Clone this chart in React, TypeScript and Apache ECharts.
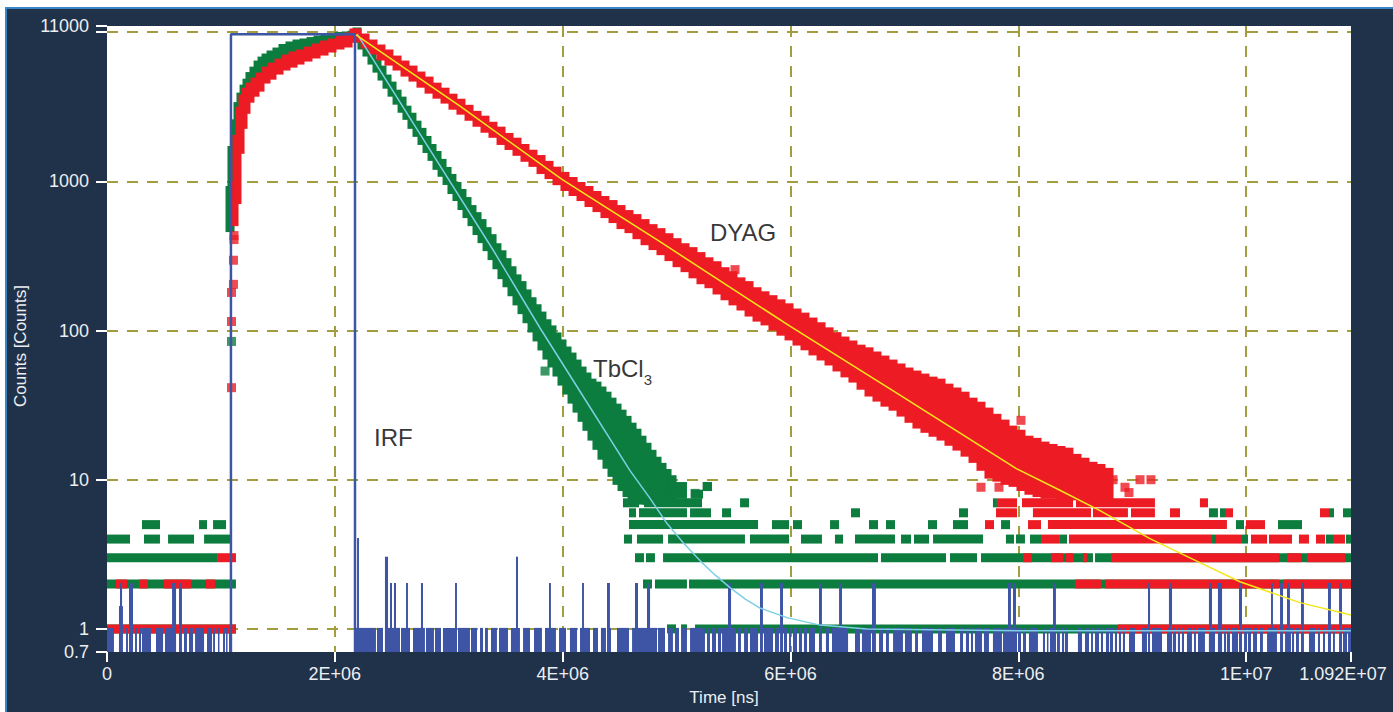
import React, { useEffect, useRef } from "react";
import * as echarts from "echarts";

// ---------- axes ----------
const TIME_MIN = 0;
const TIME_MAX = 1.092e7;
const TIME_INTERVAL = 2e6;
const COUNT_MIN = 0.7;
const COUNT_MAX = 11000;
const xAxisTitle = "Time [ns]";
const yAxisTitle = "Counts [Counts]";

// ---------- TbCl3 (green) : [time, upper count, lower count] per time window ----------
const tbcl3Band = [
  [1.080e6, 868, 490], [1.097e6, 1610, 882], [1.124e6, 2430, 1640], [1.150e6, 3170, 2690],
  [1.176e6, 3670, 3240], [1.203e6, 4150, 3500], [1.229e6, 4550, 3840], [1.255e6, 5040, 4150],
  [1.290e6, 5480, 4420], [1.326e6, 6020, 4770], [1.361e6, 6400, 5000], [1.396e6, 6710, 5320],
  [1.440e6, 7030, 5660], [1.492e6, 7360, 6020], [1.545e6, 7770, 6300], [1.606e6, 8080, 6710],
  [1.668e6, 8330, 7030], [1.729e6, 8460, 7250], [1.791e6, 8650, 7590], [1.852e6, 8860, 7830],
  [1.914e6, 9000, 8080], [1.975e6, 9210, 8330], [2.037e6, 9360, 8590], [2.098e6, 9430, 9000],
  [2.159e6, 9580, 9280],
  [2.195e6, 10030, 9140], [2.238e6, 9000, 8200], [2.282e6, 7950, 7360], [2.326e6, 7030, 6500],
  [2.370e6, 6200, 5740], [2.414e6, 5570, 5080], [2.458e6, 4850, 4480], [2.502e6, 4350, 3960],
  [2.546e6, 3840, 3500], [2.590e6, 3450, 3090], [2.633e6, 3000, 2770], [2.677e6, 2690, 2410],
  [2.721e6, 2380, 2130], [2.765e6, 2130, 1880], [2.809e6, 1880, 1660], [2.853e6, 1660, 1470],
  [2.897e6, 1490, 1280], [2.941e6, 1320, 1150], [2.985e6, 1165, 1014], [3.028e6, 1046, 882],
  [3.072e6, 924, 791], [3.116e6, 829, 689], [3.160e6, 732, 608], [3.204e6, 647, 537],
  [3.248e6, 580, 468], [3.292e6, 521, 413], [3.336e6, 460, 365], [3.380e6, 413, 318],
  [3.423e6, 359, 276], [3.467e6, 322, 237], [3.511e6, 285, 209], [3.555e6, 252, 182],
  [3.599e6, 222, 158], [3.643e6, 200, 138], [3.687e6, 176, 120], [3.731e6, 156, 104],
  [3.775e6, 140, 90.6], [3.818e6, 125, 78.8], [3.862e6, 111, 68.5], [3.906e6, 101, 60.6],
  [3.950e6, 90.6, 52.7], [3.994e6, 81.3, 45.8], [4.038e6, 72.9, 39.9], [4.082e6, 66.4, 34.7],
  [4.126e6, 59.6, 30.2], [4.170e6, 53.5, 26.2], [4.213e6, 48.8, 22.8], [4.257e6, 44.4, 19.6],
  [4.301e6, 42.4, 17.0], [4.345e6, 39.3, 14.6], [4.389e6, 36.3, 12.7], [4.433e6, 33.1, 11.2],
  [4.477e6, 30.2, 9.9], [4.521e6, 27.5, 9.0], [4.565e6, 25.0, 8.2], [4.609e6, 22.5, 7.7],
  [4.652e6, 20.5, 7.5], [4.696e6, 18.4, 7.3], [4.740e6, 16.5, 7.3], [4.784e6, 14.8, 7.3],
  [4.828e6, 13.3, 7.3], [4.872e6, 12.1, 7.3], [4.916e6, 11.0, 7.5], [4.960e6, 10.0, 7.7],
];
// runs of equal low counts: [start time, end time, counts]
const tbcl3Levels = [
  [0, 1.132e6, 1], [4.916e6, 4.995e6, 1], [5.039e6, 5.091e6, 1], [5.162e6, 10.92e6, 1],
  [0, 1.132e6, 2], [4.705e6, 4.784e6, 2], [4.810e6, 5.091e6, 2], [5.109e6, 10.92e6, 2],
  [0, 0.966e6, 3], [4.635e6, 4.714e6, 3], [4.731e6, 4.810e6, 3], [4.881e6, 6.768e6, 3],
  [6.794e6, 7.365e6, 3], [7.400e6, 7.637e6, 3], [7.672e6, 8.655e6, 3], [8.673e6, 10.92e6, 3],
  [0, 0.202e6, 4], [0.325e6, 0.465e6, 4], [0.536e6, 0.764e6, 4], [0.852e6, 1.080e6, 4],
  [4.538e6, 4.609e6, 4], [4.652e6, 4.881e6, 4], [4.925e6, 5.600e6, 4], [5.644e6, 5.987e6, 4],
  [6.092e6, 6.276e6, 4], [6.390e6, 6.461e6, 4], [6.566e6, 6.917e6, 4], [6.970e6, 7.058e6, 4],
  [7.084e6, 7.216e6, 4], [7.251e6, 7.690e6, 4], [7.891e6, 7.962e6, 4], [7.979e6, 8.058e6, 4],
  [8.102e6, 8.207e6, 4], [8.365e6, 8.427e6, 4], [9.700e6, 9.735e6, 4], [9.963e6, 10.016e6, 4],
  [10.700e6, 10.762e6, 4], [10.876e6, 10.92e6, 4],
  [0.307e6, 0.465e6, 5], [0.808e6, 0.878e6, 5], [0.931e6, 1.045e6, 5], [4.582e6, 5.715e6, 5],
  [5.837e6, 5.987e6, 5], [6.022e6, 6.101e6, 5], [6.347e6, 6.426e6, 5], [6.689e6, 6.768e6, 5],
  [6.838e6, 6.917e6, 5], [7.207e6, 7.286e6, 5], [7.426e6, 7.558e6, 5], [7.848e6, 7.927e6, 5],
  [9.910e6, 9.981e6, 5], [10.279e6, 10.490e6, 5],
  [4.582e6, 4.644e6, 6], [4.670e6, 5.091e6, 6], [5.118e6, 5.302e6, 6], [5.399e6, 5.478e6, 6],
  [6.531e6, 6.610e6, 6], [7.479e6, 7.558e6, 6], [9.673e6, 9.752e6, 6], [9.770e6, 9.814e6, 6],
  [10.727e6, 10.771e6, 6], [10.850e6, 10.92e6, 6],
  [4.529e6, 4.670e6, 7], [4.714e6, 5.223e6, 7], [5.557e6, 5.636e6, 7], [7.777e6, 7.812e6, 7],
  [4.652e6, 5.091e6, 8], [5.126e6, 5.232e6, 8],
  [4.933e6, 5.091e6, 9], [5.232e6, 5.311e6, 9],
];
const tbcl3Points = [[1.093e6, 84.5], [3.845e6, 53.5], [5.162e6, 8.1], [5.267e6, 9]];
const tbcl3Fit = [
  [2.195e6, 9730], [2.791e6, 1840], [3.388e6, 348], [3.801e6, 104], [4.240e6, 30.6],
  [4.591e6, 11.5], [4.767e6, 7.5], [4.916e6, 5.08], [5.056e6, 3.8], [5.205e6, 2.87],
  [5.337e6, 2.3], [5.469e6, 1.89], [5.600e6, 1.59], [5.732e6, 1.38], [5.969e6, 1.19],
  [6.259e6, 1.06], [6.671e6, 1.0], [8.014e6, 0.97], [10.92e6, 0.97],
];

// ---------- DYAG (red) ----------
const dyagBand = [
  [1.115e6, 938, 537], [1.141e6, 1910, 755], [1.168e6, 2950, 1640], [1.194e6, 3555, 2410],
  [1.220e6, 3960, 3040], [1.255e6, 4280, 3610], [1.299e6, 4630, 3960], [1.343e6, 5000, 4280],
  [1.396e6, 5480, 4850], [1.448e6, 5830, 5150], [1.510e6, 6200, 5570], [1.571e6, 6600, 5930],
  [1.633e6, 6920, 6200], [1.694e6, 7140, 6500], [1.764e6, 7470, 6810], [1.835e6, 7830, 7140],
  [1.905e6, 8200, 7470], [1.975e6, 8460, 7830], [2.045e6, 8860, 8200], [2.116e6, 9280, 8460],
  [2.168e6, 9880, 9140],
  [2.195e6, 9880, 9140], [2.265e6, 9140, 8330], [2.335e6, 8330, 7590], [2.405e6, 7710, 6920],
  [2.475e6, 7140, 6400], [2.546e6, 6500, 5930], [2.616e6, 6020, 5400], [2.686e6, 5570, 5000],
  [2.756e6, 5080, 4550], [2.827e6, 4700, 4150], [2.897e6, 4280, 3840], [2.967e6, 3960, 3560],
  [3.037e6, 3610, 3240], [3.107e6, 3340, 3000], [3.178e6, 3040, 2730], [3.248e6, 2770, 2490],
  [3.318e6, 2570, 2270], [3.388e6, 2340, 2100], [3.459e6, 2170, 1880], [3.529e6, 1970, 1740],
  [3.599e6, 1830, 1590], [3.669e6, 1660, 1450], [3.739e6, 1520, 1340], [3.810e6, 1400, 1200],
  [3.880e6, 1280, 1110], [3.950e6, 1170, 1010], [4.020e6, 1080, 924], [4.091e6, 998, 855],
  [4.161e6, 924, 791], [4.231e6, 868, 721], [4.301e6, 804, 667], [4.371e6, 744, 608],
  [4.442e6, 699, 563], [4.512e6, 647, 513], [4.582e6, 599, 482], [4.652e6, 563, 439],
  [4.723e6, 521, 400], [4.793e6, 482, 371], [4.863e6, 453, 343], [4.933e6, 419, 313],
  [5.004e6, 388, 285], [5.074e6, 359, 264], [5.144e6, 338, 240], [5.214e6, 313, 219],
  [5.284e6, 289, 206], [5.355e6, 272, 187], [5.425e6, 248, 171], [5.495e6, 233, 158],
  [5.565e6, 212, 146], [5.636e6, 200, 133], [5.706e6, 182, 123], [5.776e6, 171, 116],
  [5.846e6, 161, 107], [5.916e6, 151, 99], [5.987e6, 142, 92], [6.057e6, 131, 85],
  [6.127e6, 123, 79], [6.197e6, 114, 73], [6.268e6, 106, 67.5], [6.338e6, 98, 62.5],
  [6.408e6, 91, 57], [6.478e6, 85, 52], [6.548e6, 80, 48], [6.619e6, 75, 43],
  [6.689e6, 72, 38.7], [6.759e6, 67.5, 35.8], [6.829e6, 63.4, 33.1], [6.900e6, 59.6, 31.1],
  [6.970e6, 56.1, 28.4], [7.040e6, 52.7, 25.8], [7.110e6, 50.3, 23.6], [7.180e6, 48, 22.1],
  [7.251e6, 45.8, 20.8], [7.321e6, 44.4, 19.6], [7.391e6, 41.1, 18.1], [7.461e6, 38.7, 16.8],
  [7.532e6, 36.3, 15.3], [7.602e6, 33.1, 13.9], [7.672e6, 31.1, 12.3], [7.742e6, 28.4, 10.9],
  [7.812e6, 25.8, 10.4], [7.883e6, 23.6, 9.9], [7.953e6, 21.5, 9.6], [8.023e6, 20.2, 9.0],
  [8.093e6, 18.4, 8.5], [8.164e6, 17.8, 8.2], [8.234e6, 16.8, 8.0], [8.304e6, 16.2, 8.0],
  [8.374e6, 15.7, 7.8], [8.444e6, 15.3, 7.8], [8.515e6, 13.9, 7.8], [8.585e6, 13.1, 7.7],
  [8.655e6, 12.3, 7.7], [8.725e6, 11.9, 7.7], [8.796e6, 11.2, 7.7],
];
const dyagLevels = [
  [0, 1.132e6, 1], [8.875e6, 10.92e6, 1],
  [0.079e6, 0.176e6, 2], [0.281e6, 0.360e6, 2], [0.500e6, 0.737e6, 2], [0.869e6, 0.948e6, 2],
  [8.497e6, 8.725e6, 2], [8.760e6, 10.288e6, 2], [10.323e6, 10.92e6, 2],
  [0.966e6, 1.132e6, 3], [8.041e6, 8.120e6, 3], [8.286e6, 8.392e6, 3], [8.418e6, 8.480e6, 3],
  [8.567e6, 8.602e6, 3], [8.813e6, 10.288e6, 3], [10.358e6, 10.481e6, 3], [10.534e6, 10.867e6, 3],
  [8.207e6, 8.365e6, 4], [8.444e6, 9.700e6, 4], [9.735e6, 9.963e6, 4], [10.042e6, 10.183e6, 4],
  [10.200e6, 10.402e6, 4], [10.463e6, 10.551e6, 4], [10.613e6, 10.692e6, 4], [10.762e6, 10.867e6, 4],
  [7.707e6, 7.786e6, 5], [8.085e6, 8.199e6, 5], [8.260e6, 9.831e6, 5], [9.998e6, 10.165e6, 5],
  [7.804e6, 7.988e6, 6], [8.128e6, 8.638e6, 6], [8.655e6, 8.962e6, 6], [8.989e6, 9.199e6, 6],
  [9.331e6, 9.419e6, 6], [9.814e6, 9.884e6, 6], [10.648e6, 10.727e6, 6],
  [7.812e6, 7.988e6, 7], [8.032e6, 8.480e6, 7], [8.506e6, 9.199e6, 7], [9.594e6, 9.665e6, 7],
];
const dyagPoints = [
  [1.110e6, 296], [1.110e6, 204], [1.093e6, 180], [1.093e6, 115], [1.093e6, 41.4],
  [1.115e6, 433], [1.115e6, 407], [5.513e6, 256], [8.023e6, 25], [7.672e6, 8.9],
  [7.830e6, 8.9], [8.831e6, 10], [9.068e6, 10], [9.164e6, 10], [8.936e6, 8.9], [8.971e6, 8.2],
];
const dyagFit = [
  [2.186e6, 9575], [3.099e6, 3190], [3.994e6, 1030], [4.854e6, 394], [5.995e6, 107],
  [6.961e6, 36.9], [7.979e6, 11.9], [8.365e6, 8.5], [8.717e6, 6.2], [9.155e6, 4.03],
  [9.594e6, 2.78], [9.945e6, 2.07], [10.472e6, 1.5], [10.92e6, 1.24],
];

// ---------- IRF (blue) ----------
const irfPulse = [[1.088e6, 0.7], [1.088e6, 9700], [2.177e6, 9700], [2.177e6, 0.7]];
// [start time, end time, counts]
const irfCounts = [
  [0, 0.061e6, 1], [0.105e6, 0.140e6, 1.4], [0.114e6, 0.132e6, 2], [0.167e6, 0.184e6, 1],
  [0.193e6, 0.228e6, 2], [0.246e6, 0.263e6, 1], [0.281e6, 0.299e6, 1], [0.307e6, 0.386e6, 1],
  [0.430e6, 0.492e6, 1], [0.509e6, 0.606e6, 1], [0.571e6, 0.606e6, 2], [0.632e6, 0.658e6, 2],
  [0.676e6, 0.702e6, 1], [0.720e6, 0.755e6, 1], [0.773e6, 0.852e6, 1], [0.878e6, 0.922e6, 1],
  [0.931e6, 0.948e6, 1], [0.974e6, 0.983e6, 1], [1.018e6, 1.036e6, 1], [1.045e6, 1.053e6, 1],
  [1.071e6, 1.088e6, 1],
  [2.177e6, 2.361e6, 1], [2.195e6, 2.212e6, 4], [2.370e6, 2.423e6, 1], [2.440e6, 2.572e6, 1],
  [2.440e6, 2.467e6, 3], [2.484e6, 2.502e6, 2], [2.519e6, 2.537e6, 2], [2.581e6, 2.660e6, 1],
  [2.625e6, 2.642e6, 2], [2.686e6, 2.791e6, 1], [2.756e6, 2.774e6, 2], [2.800e6, 2.870e6, 1],
  [2.879e6, 2.932e6, 1], [2.949e6, 3.072e6, 1], [3.055e6, 3.072e6, 2], [3.081e6, 3.186e6, 1],
  [3.195e6, 3.248e6, 1], [3.274e6, 3.301e6, 1], [3.318e6, 3.344e6, 1],
  [3.371e6, 3.423e6, 1], [3.441e6, 3.520e6, 1], [3.546e6, 3.625e6, 1], [3.590e6, 3.608e6, 3],
  [3.652e6, 3.713e6, 1], [3.748e6, 3.818e6, 1], [3.845e6, 3.941e6, 1], [3.880e6, 3.897e6, 2],
  [3.968e6, 4.029e6, 1], [4.064e6, 4.126e6, 1], [4.152e6, 4.240e6, 1], [4.170e6, 4.187e6, 2],
  [4.266e6, 4.310e6, 1],
  [4.336e6, 4.380e6, 1], [4.389e6, 4.424e6, 1], [4.389e6, 4.415e6, 2], [4.477e6, 4.582e6, 1],
  [4.609e6, 4.828e6, 1], [4.635e6, 4.661e6, 2], [4.740e6, 4.767e6, 2], [4.837e6, 4.898e6, 1],
  [4.925e6, 4.968e6, 1], [4.986e6, 5.021e6, 1], [5.039e6, 5.091e6, 1], [5.118e6, 5.249e6, 1],
  [5.267e6, 5.293e6, 1], [5.311e6, 5.346e6, 1], [5.363e6, 5.390e6, 1], [5.399e6, 5.521e6, 1],
  [5.451e6, 5.478e6, 2], [5.539e6, 5.565e6, 1], [5.592e6, 5.627e6, 1], [5.644e6, 5.715e6, 1],
  [5.732e6, 5.758e6, 2], [5.767e6, 5.846e6, 1], [5.864e6, 5.899e6, 1], [5.908e6, 5.934e6, 2],
  [5.943e6, 5.969e6, 1], [5.987e6, 6.004e6, 1], [6.022e6, 6.057e6, 1], [6.074e6, 6.101e6, 1],
  [6.118e6, 6.145e6, 1], [6.162e6, 6.215e6, 1], [6.250e6, 6.276e6, 2], [6.311e6, 6.338e6, 1],
  [6.364e6, 6.505e6, 1], [6.426e6, 6.452e6, 2], [6.566e6, 6.610e6, 1], [6.627e6, 6.706e6, 1],
  [6.715e6, 6.750e6, 2], [6.777e6, 6.812e6, 1], [6.838e6, 6.864e6, 1], [6.900e6, 6.987e6, 1],
  [7.005e6, 7.066e6, 1], [7.093e6, 7.119e6, 1], [7.154e6, 7.251e6, 1], [7.295e6, 7.330e6, 1],
  [7.365e6, 7.444e6, 1], [7.488e6, 7.514e6, 1], [7.540e6, 7.567e6, 1], [7.584e6, 7.602e6, 1],
  [7.619e6, 7.681e6, 1], [7.698e6, 7.742e6, 1], [7.777e6, 7.856e6, 1], [7.865e6, 7.988e6, 1],
  [7.909e6, 7.935e6, 2], [7.953e6, 7.979e6, 2],
  [7.997e6, 8.023e6, 1], [8.041e6, 8.067e6, 1], [8.093e6, 8.172e6, 1], [8.216e6, 8.234e6, 1],
  [8.251e6, 8.260e6, 1], [8.278e6, 8.330e6, 1], [8.304e6, 8.330e6, 2], [8.339e6, 8.365e6, 1],
  [8.383e6, 8.401e6, 1], [8.409e6, 8.436e6, 1], [8.523e6, 8.559e6, 1], [8.585e6, 8.620e6, 1],
  [8.638e6, 8.655e6, 1], [8.673e6, 8.708e6, 1], [8.725e6, 8.743e6, 1], [8.769e6, 8.796e6, 1],
  [8.804e6, 8.831e6, 1], [8.848e6, 8.866e6, 1], [8.883e6, 8.901e6, 1], [8.918e6, 8.936e6, 1],
  [8.971e6, 9.024e6, 1], [9.085e6, 9.129e6, 1], [9.138e6, 9.156e6, 2], [9.173e6, 9.261e6, 1],
  [9.305e6, 9.349e6, 1], [9.322e6, 9.349e6, 2], [9.357e6, 9.384e6, 1], [9.401e6, 9.419e6, 1],
  [9.436e6, 9.454e6, 1], [9.480e6, 9.524e6, 1], [9.542e6, 9.559e6, 1], [9.577e6, 9.638e6, 1],
  [9.673e6, 9.726e6, 1], [9.673e6, 9.700e6, 2], [9.752e6, 9.788e6, 2], [9.805e6, 9.823e6, 1],
  [9.831e6, 9.858e6, 1], [9.875e6, 9.928e6, 1], [9.937e6, 9.963e6, 2], [9.981e6, 10.007e6, 1],
  [10.016e6, 10.042e6, 1], [10.060e6, 10.095e6, 1], [10.121e6, 10.147e6, 1], [10.183e6, 10.270e6, 1],
  [10.218e6, 10.235e6, 2], [10.297e6, 10.323e6, 2], [10.341e6, 10.393e6, 1], [10.358e6, 10.384e6, 2],
  [10.402e6, 10.420e6, 1], [10.437e6, 10.463e6, 1], [10.481e6, 10.507e6, 2], [10.551e6, 10.604e6, 1],
  [10.630e6, 10.648e6, 1], [10.674e6, 10.692e6, 1], [10.718e6, 10.744e6, 2], [10.762e6, 10.779e6, 1],
  [10.815e6, 10.841e6, 2], [10.850e6, 10.885e6, 1], [10.894e6, 10.920e6, 1],
];

// ---------- annotations ----------
const noteText = ["DYAG", "{a|TbCl}{b|3}", "IRF"];
const noteTime = [5.293e6, 4.266e6, 2.344e6];
const noteCount = [453, 56, 19.3];

// ---------- styles ----------
const FONT = "'Liberation Sans', Arial, Helvetica, sans-serif";
const NAVY = "#1f3249";
const FRAME = "#3a85c6";
const RED = "#ed1c24";
const GREEN = "#0c7d3e";
const BLUE = "#3e55a5";
const YELLOW = "#f5e61a";
const CYAN = "#7ccfe4";
const GRIDC = "#a29e3e";
const AXIS_TEXT = "#eceef2";
const MARK = 9;

const fmtX = (v: number) => {
  if (v === 0) return "0";
  const [m, e] = v.toExponential().split("e");
  const ex = parseInt(e, 10);
  const txt = `${+parseFloat(m).toFixed(3)}E${ex >= 0 ? "+" : "-"}${String(Math.abs(ex)).padStart(2, "0")}`;
  return Math.abs(v - TIME_MAX) < 1 ? `{mx|${txt}}` : txt;
};
const fmtY = (v: number) => (Math.abs(v - 10000) < 0.5 ? "" : String(+Number(v).toPrecision(6)));

const bandItem = (color: string) => (_p: any, api: any) => {
  const t = api.value(0);
  const a = api.coord([t, api.value(1)]);
  const b = api.coord([t, api.value(2)]);
  return {
    type: "rect",
    shape: { x: a[0] - MARK / 2, y: a[1] - MARK / 2, width: MARK, height: b[1] - a[1] + MARK },
    style: { fill: color },
  };
};
const levelItem = (color: string) => (_p: any, api: any) => {
  const a = api.coord([api.value(0), api.value(2)]);
  const b = api.coord([api.value(1), api.value(2)]);
  return {
    type: "rect",
    shape: { x: a[0], y: a[1] - MARK / 2, width: Math.max(b[0] - a[0], 1), height: MARK },
    style: { fill: color },
  };
};
const irfItem = (_p: any, api: any) => {
  const a = api.coord([api.value(0), api.value(2)]);
  const b = api.coord([api.value(1), COUNT_MIN]);
  return {
    type: "rect",
    shape: { x: a[0], y: a[1] - 1, width: Math.max(b[0] - a[0], 1.5), height: b[1] - a[1] + 1 },
    style: { fill: BLUE },
  };
};

export default function App() {
  const ref = useRef<HTMLDivElement>(null);
  useEffect(() => {
    const el = ref.current;
    if (!el) return;
    const chart = echarts.init(el, undefined, { renderer: "svg" });
    const split = { show: true, showMinLine: false, showMaxLine: false, lineStyle: { color: GRIDC, width: 2, type: [11, 9] } };
    const option: any = {
      animation: false,
      textStyle: { fontFamily: FONT },
      grid: { left: 107, right: 42, top: 26, bottom: 60, show: true, backgroundColor: "#ffffff", borderWidth: 0, outerBoundsMode: "none" },
      xAxis: {
        type: "value", min: TIME_MIN, max: TIME_MAX, interval: TIME_INTERVAL,
        name: xAxisTitle, nameLocation: "middle", nameGap: 37,
        nameTextStyle: { color: AXIS_TEXT, fontSize: 17, fontFamily: FONT, padding: [0, 10, 0, 0] },
        axisLine: { show: false },
        axisTick: { show: true, length: 10, lineStyle: { color: "#ffffff", width: 2 } },
        axisLabel: {
          color: AXIS_TEXT, fontSize: 18, fontFamily: FONT, margin: 13, formatter: fmtX,
          showMinLabel: true, showMaxLabel: true,
          rich: { mx: { color: AXIS_TEXT, fontSize: 18, fontFamily: FONT, padding: [0, 16, 0, 0] } },
        },
        splitLine: split,
      },
      yAxis: {
        type: "log", logBase: 10, min: COUNT_MIN, max: COUNT_MAX,
        name: yAxisTitle, nameLocation: "middle", nameGap: 74, nameRotate: 90,
        nameTextStyle: { color: AXIS_TEXT, fontSize: 17, fontFamily: FONT, padding: [0, 14, 0, 0] },
        axisLine: { show: false },
        axisTick: { show: true, length: 11, lineStyle: { color: "#ffffff", width: 2 } },
        axisLabel: { color: AXIS_TEXT, fontSize: 18, fontFamily: FONT, margin: 18, formatter: fmtY, showMinLabel: true, showMaxLabel: true },
        minorTick: { show: false },
        splitLine: split,
      },
      series: [
        { name: "TbCl3", type: "custom", z: 2, clip: true, renderItem: bandItem(GREEN), encode: { x: 0, y: [1, 2] }, data: tbcl3Band },
        { name: "TbCl3 low", type: "custom", z: 2, clip: true, renderItem: levelItem(GREEN), encode: { x: [0, 1], y: 2 }, data: tbcl3Levels },
        { name: "TbCl3 pts", type: "scatter", z: 2, symbol: "rect", symbolSize: MARK, itemStyle: { color: GREEN }, data: tbcl3Points },
        { name: "DYAG", type: "custom", z: 2, clip: true, renderItem: bandItem(RED), encode: { x: 0, y: [1, 2] }, data: dyagBand },
        { name: "DYAG low", type: "custom", z: 2, clip: true, renderItem: levelItem(RED), encode: { x: [0, 1], y: 2 }, data: dyagLevels },
        { name: "DYAG pts", type: "scatter", z: 2, symbol: "rect", symbolSize: MARK, itemStyle: { color: RED }, data: dyagPoints },
        { name: "IRF noise", type: "custom", z: 3, clip: true, renderItem: irfItem, encode: { x: [0, 1], y: 2 }, data: irfCounts },
        { name: "IRF", type: "line", z: 3, clip: true, showSymbol: false, symbol: "none", lineStyle: { color: BLUE, width: 2.5 }, data: irfPulse },
        { name: "TbCl3 fit", type: "line", z: 4, showSymbol: false, symbol: "none", smooth: false, lineStyle: { color: CYAN, width: 1.5 }, data: tbcl3Fit },
        { name: "DYAG fit", type: "line", z: 4, showSymbol: false, symbol: "none", smooth: false, lineStyle: { color: YELLOW, width: 1.5 }, data: dyagFit },
        {
          name: "notes", type: "scatter", z: 5, silent: true, symbolSize: 0,
          itemStyle: { color: "transparent" },
          data: noteText.map((txt, i) => ({
            value: [noteTime[i], noteCount[i]],
            label: {
              show: true, position: "right", distance: 0, formatter: txt,
              color: "#000000", fontSize: 24, fontFamily: FONT,
              rich: {
                a: { color: "#000000", fontSize: 24, fontFamily: FONT },
                b: { color: "#000000", fontSize: 15, fontFamily: FONT, padding: [22, 0, 0, 0] },
              },
            },
          })),
        },
      ],
    };
    chart.setOption(option);
    return () => chart.dispose();
  }, []);
  return (
    <div style={{ position: "fixed", left: 0, top: 0, width: 1393, height: 712, background: "#ffffff", overflow: "hidden" }}>
      <div style={{ position: "absolute", left: 5, top: 7, right: 0, bottom: 0, background: NAVY, borderLeft: `2px solid ${FRAME}`, borderTop: `2px solid ${FRAME}` }} />
      <div ref={ref} style={{ position: "absolute", left: 0, top: 0, width: 1393, height: 712 }} />
    </div>
  );
}
